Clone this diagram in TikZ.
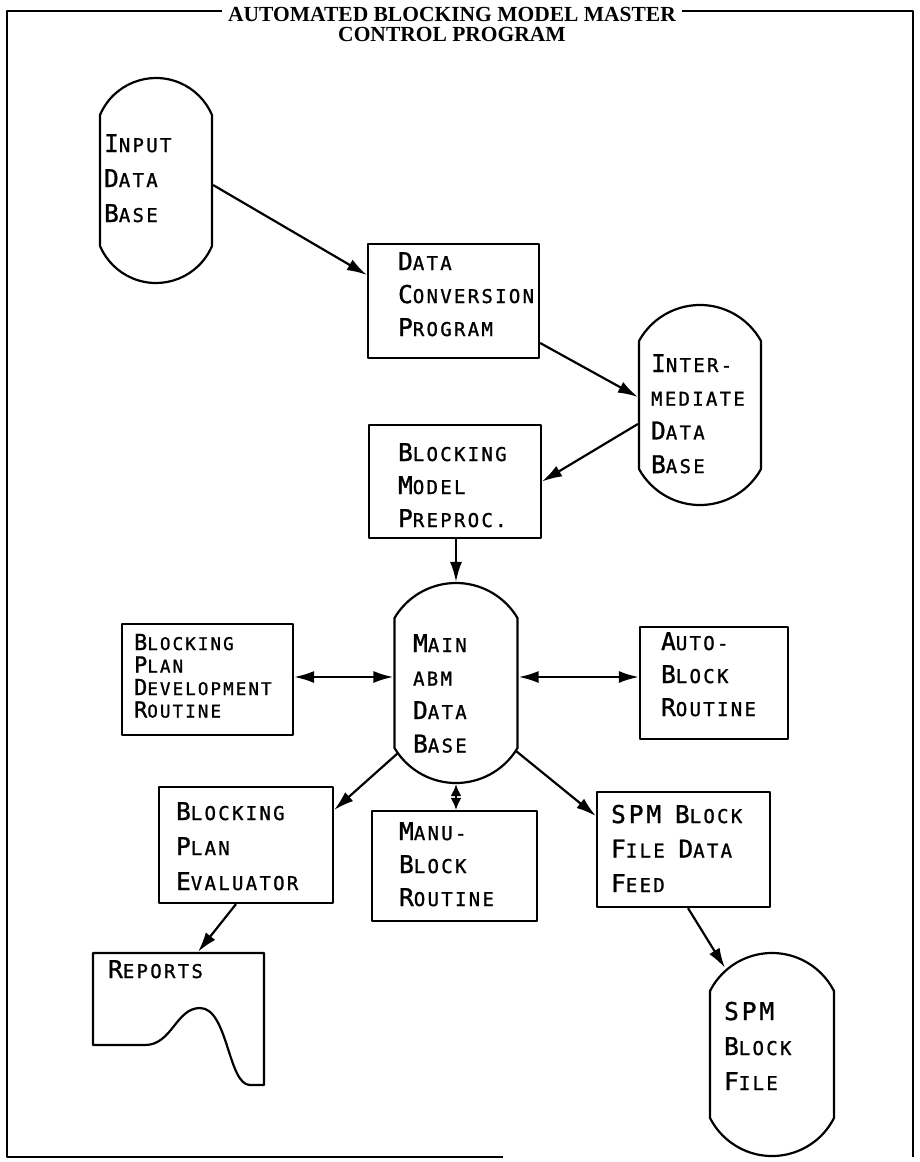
\documentclass[tikz,border=0pt]{standalone}
\usepackage{fontspec}
\setmainfont{Liberation Serif}
\newfontfamily\lett[LetterSpace=12,FakeBold=1.2]{DejaVu Sans Mono}
\usetikzlibrary{arrows.meta}
\newcommand\Bg{\fontsize{24.5}{24.5}\selectfont}
\newcommand\Bs{\fontsize{22}{22}\selectfont}
\newcommand\txtlines[2]{\vtop{\baselineskip=#1pt\lineskiplimit=-100pt\relax #2}}
\newcommand\dbshape[6]{%
  \pgfmathsetmacro\dbR{(#5*#5+#6*#6)/(2*#6)}%
  \pgfmathsetmacro\dbph{atan((\dbR-#6)/#5)}%
  \node[inner sep=0, minimum width={2*#5}, minimum height={#4-#3}] (#1) at (#2,{(#3+#4)/2}) {};
  \draw[outline] ({#2-#5},{#3+#6}) arc[start angle={180+\dbph}, end angle={360-\dbph}, radius=\dbR]
     -- ({#2+#5},{#4-#6}) arc[start angle=\dbph, end angle={180-\dbph}, radius=\dbR] -- cycle;
}
\begin{document}
\begin{tikzpicture}[x=1pt,y=-1pt,line width=2.2pt,line join=round,
  outline/.style={line width=2.2pt},
  box/.style={draw,line width=2.2pt,inner sep=0},
  lbl/.style={font=\lett\fontsize{19}{19}\selectfont,inner sep=0,anchor=base west},
  slbl/.style={font=\lett\fontsize{17.5}{17.5}\selectfont,inner sep=0,anchor=base west},
  ttl/.style={font=\bfseries\fontsize{21.5}{21.5}\selectfont,inner ysep=1pt,inner xsep=6pt,anchor=base},
  arr/.style={-{Latex[length=20pt,width=12pt]}},
  darr/.style={{Latex[length=20pt,width=12pt]}-{Latex[length=20pt,width=12pt]}},
  sdarr/.style={{Latex[length=12pt,width=11pt]}-{Latex[length=12pt,width=11pt]}}]
\useasboundingbox (0,0) rectangle (920,1162);
% frame
\draw[line width=2pt] (503,1157) -- (7,1157) -- (7,11) -- (913,11) -- (913,1157);
\node[ttl,fill=white] (title) at (452,21) {AUTOMATED BLOCKING MODEL MASTER};
\node[ttl] (title2) at (452,41) {CONTROL PROGRAM};

% data bases
\dbshape{inp}{156}{78}{283}{56}{37}
\dbshape{idb}{700}{305}{505}{61}{36}
\dbshape{main}{456}{583}{783}{61.5}{35}
\dbshape{spmbf}{772}{953}{1156}{62}{38}

% boxes
\node[box,minimum width=171,minimum height=114] (dcp) at (453.5,301) {};
\node[box,minimum width=172,minimum height=113] (bmp) at (455,481.5) {};
\node[box,minimum width=171,minimum height=111] (bpd) at (207.5,679.5) {};
\node[box,minimum width=148,minimum height=112] (auto) at (714,683) {};
\node[box,minimum width=174,minimum height=116] (bpe) at (246,845) {};
\node[box,minimum width=165,minimum height=110] (manu) at (454.5,866) {};
\node[box,minimum width=173,minimum height=115] (spmf) at (683.5,849.5) {};

% reports document
\node[inner sep=0,minimum width=171,minimum height=132] (rep) at (178.5,1019) {};
\draw[outline] (93,953) -- (264,953) -- (264,1085) -- (250,1085)
  .. controls (228,1085) and (228,1008) .. (200,1008)
  .. controls (176,1008) and (172,1045) .. (145,1045) -- (93,1045) -- cycle;

% labels
\node[lbl] (inp-t) at (103,152) {\txtlines{35}{\hbox{{\Bg I}NPUT}\hbox{{\Bg D}ATA}\hbox{{\Bg B}ASE}}};
\node[lbl] (dcp-t) at (397,270) {\txtlines{33}{\hbox{{\Bg D}ATA}\hbox{{\Bg C}ONVERSION}\hbox{{\Bg P}ROGRAM}}};
\node[lbl] (idb-t) at (650,372) {\txtlines{33.7}{\hbox{{\Bg I}NTER-}\hbox{MEDIATE}\hbox{{\Bg D}ATA}\hbox{{\Bg B}ASE}}};
\node[lbl] (bmp-t) at (397,461) {\txtlines{33}{\hbox{{\Bg B}LOCKING}\hbox{{\Bg M}ODEL}\hbox{{\Bg P}REPROC.}}};
\node[lbl] (main-t) at (412,652) {\txtlines{33.5}{\hbox{{\Bg M}AIN}\hbox{ABM}\hbox{{\Bg D}ATA}\hbox{{\Bg B}ASE}}};
\node[slbl] (bpd-t) at (133,650) {\txtlines{22.5}{\hbox{{\Bs B}LOCKING}\hbox{{\Bs P}LAN}\hbox{{\Bs D}EVELOPMENT}\hbox{{\Bs R}OUTINE}}};
\node[lbl] (auto-t) at (660,650) {\txtlines{33}{\hbox{{\Bg A}UTO-}\hbox{{\Bg B}LOCK}\hbox{{\Bg R}OUTINE}}};
\node[lbl] (bpe-t) at (175,820) {\txtlines{35}{\hbox{{\Bg B}LOCKING}\hbox{{\Bg P}LAN}\hbox{{\Bg E}VALUATOR}}};
\node[lbl] (manu-t) at (398,840) {\txtlines{33}{\hbox{{\Bg M}ANU-}\hbox{{\Bg B}LOCK}\hbox{{\Bg R}OUTINE}}};
\node[lbl] (spmf-t) at (610,823) {\txtlines{34.5}{\hbox{{\Bg SPM} {\Bg B}LOCK}\hbox{{\Bg F}ILE {\Bg D}ATA}\hbox{{\Bg F}EED}}};
\node[lbl] (spmbf-t) at (723,1020) {\txtlines{35}{\hbox{{\Bg SPM}}\hbox{{\Bg B}LOCK}\hbox{{\Bg F}ILE}}};
\node[lbl] (rep-t) at (107,978) {{\Bg R}EPORTS};

% connectors
\draw[arr] ([yshift=-4.5pt]inp.east) -- ([yshift=26pt]dcp.west);
\draw[arr] ([yshift=-42pt]dcp.east) -- ([yshift=8pt]idb.west);
\draw[arr] ([yshift=-19pt]idb.west) -- (bmp.east);
\draw[arr] (bmp.south -| main.north) -- (main.north);
\draw[darr] ([yshift=2.5pt]bpd.east) -- ([yshift=6pt]main.west);
\draw[darr] ([yshift=6pt]main.east) -- ([yshift=6pt]auto.west);
\draw[arr] ([xshift=-58pt,yshift=-70pt]main.center) -- ([yshift=35pt]bpe.east);
\draw[sdarr] (main.south) -- (main.south |- manu.north);
\draw[arr] ([xshift=60pt,yshift=-68pt]main.center) -- ([yshift=33.5pt]spmf.west);
\draw[arr] ([xshift=-10pt]bpe.south) -- ([xshift=19.5pt]rep.north);
\draw[arr] ([xshift=4.5pt]spmf.south) -- ([xshift=-47pt,yshift=86.5pt]spmbf.center);
\end{tikzpicture}
\end{document}
